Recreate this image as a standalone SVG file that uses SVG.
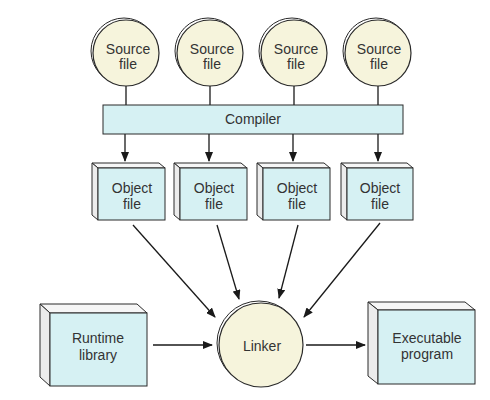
<svg xmlns="http://www.w3.org/2000/svg" width="490" height="400" viewBox="0 0 490 400">
<defs>
<marker id="ah" markerWidth="10" markerHeight="8" refX="9" refY="4" orient="auto" markerUnits="userSpaceOnUse">
<path d="M0,0 L10,4 L0,8 Z" fill="#1a1a1a"/>
</marker>
<style>
.circ{fill:#f6f4dc;stroke:#2a2a2a;stroke-width:1.2}
.shad{fill:#ffffff;stroke:#2a2a2a;stroke-width:1}
.face{fill:#d6f1f3;stroke:#2a2a2a;stroke-width:1}
.side{fill:#ececec;stroke:#2a2a2a;stroke-width:1}
.top{fill:#f6f6f6;stroke:#2a2a2a;stroke-width:1}
.lbl{font-family:"Liberation Sans",Arial,sans-serif;font-size:14px;fill:#333;text-anchor:middle}
.con{stroke:#1a1a1a;stroke-width:1.3;fill:none}
.arr{stroke:#1a1a1a;stroke-width:1.3;fill:none;marker-end:url(#ah)}
</style>
</defs>
<rect width="490" height="400" fill="#ffffff"/>

<g id="connectors">
<line class="con" x1="126" y1="86" x2="126" y2="105"/>
<line class="con" x1="210" y1="86" x2="210" y2="105"/>
<line class="con" x1="294" y1="86" x2="294" y2="105"/>
<line class="con" x1="378" y1="86" x2="378" y2="105"/>
<line class="arr" x1="125" y1="134" x2="125" y2="161"/>
<line class="arr" x1="209" y1="134" x2="209" y2="161"/>
<line class="arr" x1="293" y1="134" x2="293" y2="161"/>
<line class="arr" x1="378" y1="134" x2="378" y2="161"/>
<line class="arr" x1="133" y1="225" x2="215" y2="317"/>
<line class="arr" x1="217" y1="225" x2="239" y2="299"/>
<line class="arr" x1="298" y1="225" x2="279" y2="298"/>
<line class="arr" x1="380" y1="223" x2="304" y2="317"/>
<line class="arr" x1="153" y1="345" x2="212" y2="345"/>
<line class="arr" x1="306" y1="345" x2="365" y2="345"/>
</g>

<g id="source1">
<circle class="shad" cx="124" cy="51" r="33"/>
<circle class="circ" cx="126" cy="53" r="33"/>
<text class="lbl" x="128" y="54">Source</text>
<text class="lbl" x="128" y="69">file</text>
</g>
<g id="source2">
<circle class="shad" cx="208" cy="51" r="33"/>
<circle class="circ" cx="210" cy="53" r="33"/>
<text class="lbl" x="212" y="54">Source</text>
<text class="lbl" x="212" y="69">file</text>
</g>
<g id="source3">
<circle class="shad" cx="292" cy="51" r="33"/>
<circle class="circ" cx="294" cy="53" r="33"/>
<text class="lbl" x="296" y="54">Source</text>
<text class="lbl" x="296" y="69">file</text>
</g>
<g id="source4">
<circle class="shad" cx="376" cy="51" r="33"/>
<circle class="circ" cx="378" cy="53" r="33"/>
<text class="lbl" x="379" y="54">Source</text>
<text class="lbl" x="379" y="69">file</text>
</g>

<g id="compiler">
<rect class="face" x="103" y="105" width="300" height="29"/>
<text class="lbl" x="253" y="124">Compiler</text>
</g>

<g id="object1">
<polygon class="top" points="92,163 159,163 165,168 98,168"/>
<polygon class="side" points="92,163 98,168 98,220 92,215"/>
<rect class="face" x="98" y="168" width="67" height="52"/>
<text class="lbl" x="132" y="193">Object</text>
<text class="lbl" x="132" y="209">file</text>
</g>
<g id="object2">
<polygon class="top" points="174,163 241,163 247,168 180,168"/>
<polygon class="side" points="174,163 180,168 180,220 174,215"/>
<rect class="face" x="180" y="168" width="67" height="52"/>
<text class="lbl" x="214" y="193">Object</text>
<text class="lbl" x="214" y="209">file</text>
</g>
<g id="object3">
<polygon class="top" points="257,163 324,163 330,168 263,168"/>
<polygon class="side" points="257,163 263,168 263,220 257,215"/>
<rect class="face" x="263" y="168" width="67" height="52"/>
<text class="lbl" x="297" y="193">Object</text>
<text class="lbl" x="297" y="209">file</text>
</g>
<g id="object4">
<polygon class="top" points="341,163 407,163 413,168 347,168"/>
<polygon class="side" points="341,163 347,168 347,220 341,215"/>
<rect class="face" x="347" y="168" width="66" height="52"/>
<text class="lbl" x="380" y="193">Object</text>
<text class="lbl" x="380" y="209">file</text>
</g>

<g id="runtime">
<polygon class="top" points="40,304 137,304 147,313 50,313"/>
<polygon class="side" points="40,304 50,313 50,386 40,377"/>
<rect class="face" x="50" y="313" width="97" height="73"/>
<text class="lbl" x="98" y="343">Runtime</text>
<text class="lbl" x="98" y="360">library</text>
</g>

<g id="linker">
<circle class="shad" cx="259" cy="343" r="42"/>
<circle class="circ" cx="261" cy="345" r="42"/>
<text class="lbl" x="262" y="351">Linker</text>
</g>

<g id="executable">
<polygon class="top" points="368,302 465,302 475,310 378,310"/>
<polygon class="side" points="368,302 378,310 378,384 368,376"/>
<rect class="face" x="378" y="310" width="97" height="74"/>
<text class="lbl" x="427" y="343">Executable</text>
<text class="lbl" x="427" y="359">program</text>
</g>
</svg>
